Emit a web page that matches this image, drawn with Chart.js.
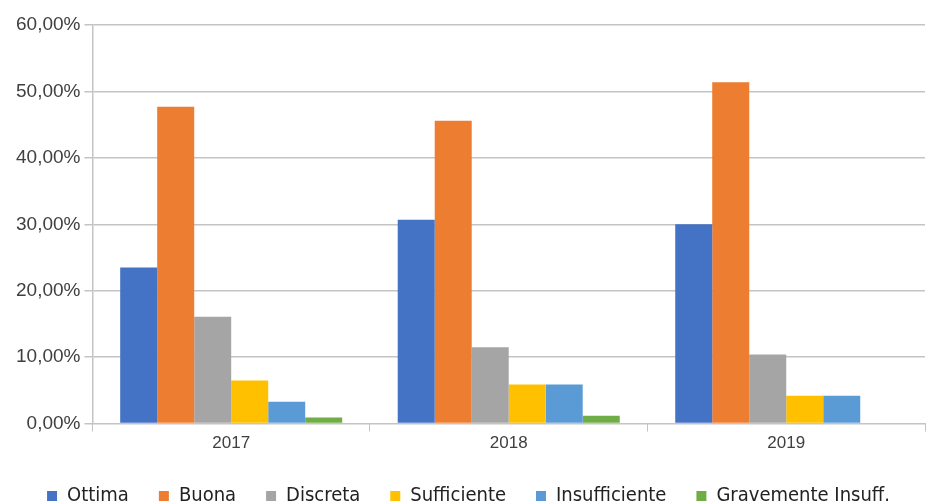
<!DOCTYPE html>
<html>
<head>
<meta charset="utf-8">
<script src="https://cdn.jsdelivr.net/npm/chart.js@4/dist/chart.umd.min.js"></script>
<style>
  html, body { margin: 0; padding: 0; background: #fff; }
  #box { width: 930px; height: 504px; }
</style>
</head>
<body>
<div id="box"><canvas id="grafico"></canvas></div>
<script>
// dati
const anni = ["2017", "2018", "2019"];
const ottima = [23.5, 30.7, 30.0];
const buona = [47.7, 45.6, 51.4];
const discreta = [16.1, 11.5, 10.4];
const sufficiente = [6.5, 5.9, 4.2];
const insufficiente = [3.3, 5.9, 4.2];
const gravemente = [0.9, 1.2, 0];
const tickY = [0, 10, 20, 30, 40, 50, 60];

const testo = "#404040";
const griglia = "#c4c4c4";

function serie(nome, dati, colore) {
    return { label: nome, data: dati, backgroundColor: colore, borderWidth: 0 };
}

new Chart(document.getElementById("grafico"), {
    type: "bar",
    data: {
        labels: anni,
        datasets: [
            serie("Ottima", ottima, "#4472C4"),
            serie("Buona", buona, "#ED7D31"),
            serie("Discreta", discreta, "#A5A5A5"),
            serie("Sufficiente", sufficiente, "#FFC000"),
            serie("Insufficiente", insufficiente, "#5B9BD5"),
            serie("Gravemente Insuff.", gravemente, "#70AD47")
        ]
    },
    options: {
        responsive: true,
        maintainAspectRatio: false,
        animation: false,
        datasets: { bar: { categoryPercentage: 0.8, barPercentage: 1 } },
        layout: { padding: { top: 25, right: 5, left: 12, bottom: -12 } },
        plugins: {
            tooltip: { enabled: false },
            legend: {
                position: "bottom",
                labels: {
                    boxWidth: 10, boxHeight: 10, padding: 30, color: "#222",
                    font: { family: "DejaVu Sans Condensed, Liberation Sans", size: 20 }
                }
            }
        },
        scales: {
            x: {
                grid: { drawOnChartArea: false, drawTicks: true, tickLength: 8, color: griglia, offset: true },
                border: { color: griglia, width: 1 },
                ticks: { color: testo, font: { family: "Liberation Sans", size: 17 }, padding: 2 }
            },
            y: {
                min: 0, max: 60,
                afterBuildTicks: ax => { ax.ticks = tickY.map(v => ({ value: v })); },
                grid: { color: griglia, lineWidth: 1.5, drawTicks: true, tickLength: 8 },
                border: { color: griglia, width: 1.5 },
                ticks: {
                    color: testo, padding: 4,
                    font: { family: "Liberation Sans", size: 19 },
                    callback: v => v.toFixed(2).replace(".", ",") + "%"
                }
            }
        }
    }
});
</script>
</body>
</html>
